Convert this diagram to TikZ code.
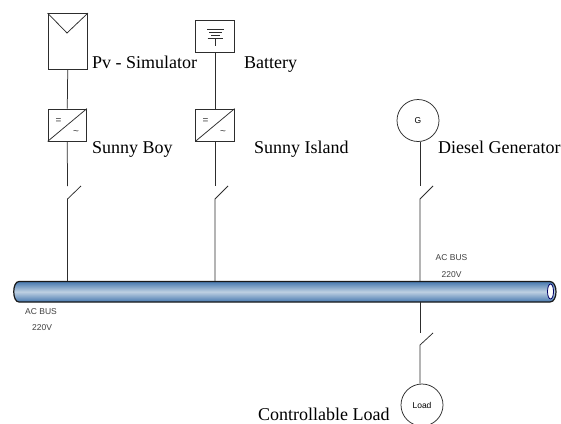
\documentclass[tikz,border=0pt]{standalone}
\usepackage{fontspec}
\setmainfont{Liberation Serif}
\setsansfont{Liberation Sans}
\usetikzlibrary{shapes.geometric}
\definecolor{busdark}{RGB}{70,120,175}
\definecolor{buslight}{RGB}{190,208,226}
\definecolor{wire}{RGB}{45,45,45}
\tikzset{
  x=1pt,y=-1pt,
  wireline/.style={draw=wire,line width=0.75pt},
  boxnode/.style={draw=wire,line width=0.75pt,fill=white,inner sep=0pt,minimum width=#1},
  circnode/.style={circle,draw=wire,line width=0.75pt,inner sep=0pt,minimum size=42pt,font=\sffamily\fontsize{8.5}{10}\selectfont},
  lab/.style={inner sep=0pt,anchor=base west,font=\fontsize{18}{22}\selectfont},
  small/.style={inner sep=0pt,text=black!75,font=\sffamily\fontsize{8.5}{10}\selectfont},
  sign/.style={inner sep=0pt,text=black!80,font=\sffamily\fontsize{10}{10}\selectfont},
}
\begin{document}
\begin{tikzpicture}
\useasboundingbox (0,0) rectangle (561,423);
\fill[white] (0,0) rectangle (561,423);
% bus
\node[inner sep=0pt,minimum width=542pt,minimum height=20.5pt] (bus) at (285,291.5) {};
\draw[line width=1.2pt,draw=black!90,top color=busdark,bottom color=busdark,middle color=buslight]
  (19,281.5) -- (550,281.5) .. controls (558,281.5) and (558,302) .. (550,302) -- (19,302)
  .. controls (12,302) and (12,281.5) .. (19,281.5) -- cycle;
\draw[line width=0.8pt,draw=blue!40!black,fill=white] (550.5,291.5) ellipse [x radius=3,y radius=7.5];
% PV
\node[boxnode=39.5pt,minimum height=55.5pt] (pv) at (67.75,41.25) {};
\draw[wireline] (pv.north west) -- (67,33) -- (pv.north east);
\node[boxnode=38.5pt,minimum height=32pt] (inv1) at (67.25,125) {};
\draw[wireline] (inv1.south west) -- (inv1.north east);
\node[sign] (eq1) at (58.5,121) {=};
\node[sign] (ti1) at (76,133) {\textasciitilde};
% battery
\node[boxnode=38.5pt,minimum height=32pt] (bat) at (215,36) {};
\draw[wireline] (207,29) -- (223.5,29) (209,32.5) -- (222,32.5) (211,35.5) -- (220,35.5)
  (207.5,38) -- (223,38) (215,38) -- (215,46);
\node[boxnode=38.5pt,minimum height=32pt] (inv2) at (215,125) {};
\draw[wireline] (inv2.south west) -- (inv2.north east);
\node[sign] (eq2) at (205.5,121) {=};
\node[sign] (ti2) at (223,133) {\textasciitilde};
% generator and load
\node[circnode] (gen) at (418,120.5) {G};
\node[circnode] (load) at (422,405) {Load};
% switch points
\coordinate (s1t) at (67.5,186); \coordinate (s1b) at (67.5,199); \coordinate (s1e) at (81,186);
\coordinate (s2t) at (215,186); \coordinate (s2b) at (215,199); \coordinate (s2e) at (228,186);
\coordinate (s3t) at (420,186); \coordinate (s3b) at (420,199); \coordinate (s3e) at (433,186);
\coordinate (s4t) at (420,333); \coordinate (s4b) at (420,345); \coordinate (s4e) at (433,333);
% connectors
\draw[wireline] (pv.south) -- (inv1.north);
\draw[wireline] (inv1.south) -- (s1t);
\draw[wireline] (s1e) -- (s1b) -- (s1b |- bus.north);
\draw[wireline] (bat.south) -- (inv2.north);
\draw[wireline] (inv2.south) -- (s2t);
\draw[wireline] (s2e) -- (s2b) -- (s2b |- bus.north);
\draw[wireline] (s3t |- gen.south) -- (s3t);
\draw[wireline] (s3e) -- (s3b) -- (s3b |- bus.north);
\draw[wireline] (s4t |- bus.south) -- (s4t);
\draw[wireline] (s4e) -- (s4b) -- (s4b |- load.north);
% labels
\node[lab] (l1) at (92,68.5) {Pv - Simulator};
\node[lab] (l2) at (244,68) {Battery};
\node[lab] (l3) at (92,153) {Sunny Boy};
\node[lab] (l4) at (254,153) {Sunny Island};
\node[lab] (l5) at (438,153) {Diesel Generator};
\node[lab] (l6) at (258,420) {Controllable Load};
\node[small] (b1) at (41,312) {AC BUS};
\node[small] (b2) at (42,328) {220V};
\node[small] (b3) at (451.5,258) {AC BUS};
\node[small] (b4) at (451.5,275) {220V};
\end{tikzpicture}
\end{document}
